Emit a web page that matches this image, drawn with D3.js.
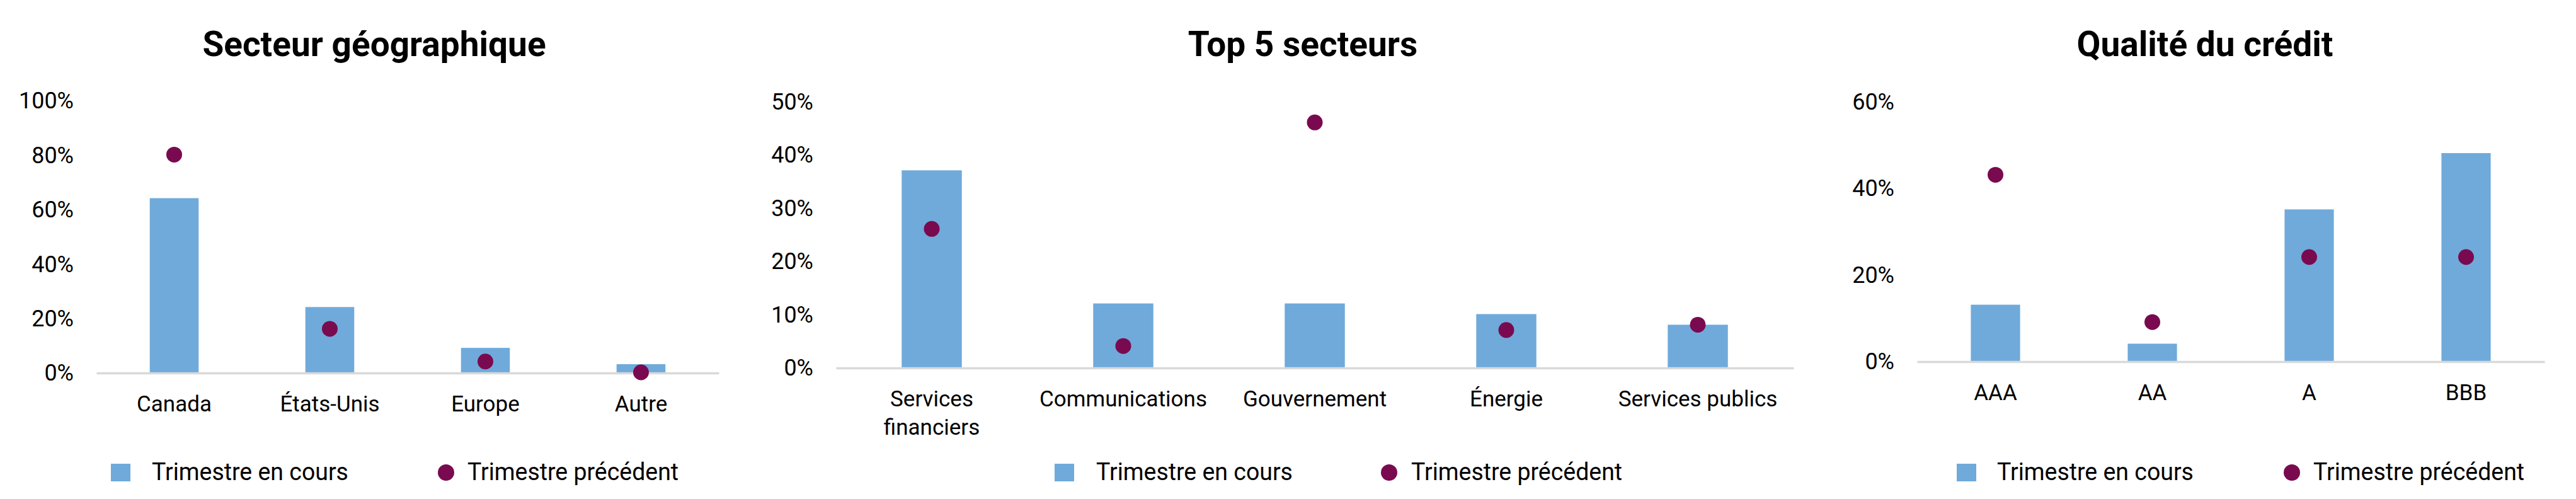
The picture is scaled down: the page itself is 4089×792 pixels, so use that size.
<!DOCTYPE html>
<html>
<head>
<meta charset="utf-8">
<script src="https://cdn.jsdelivr.net/npm/d3@7"></script>
<style>
  html, body { margin: 0; padding: 0; background: #ffffff; }
  svg { display: block; }
</style>
</head>
<body>
<svg id="chart" width="4089" height="792"></svg>
<script>
// ---------------- DATA ----------------
const legendLabels = ["Trimestre en cours", "Trimestre précédent"];

const geoTitle = "Secteur géographique";
const geoCategories = ["Canada", "États-Unis", "Europe", "Autre"];
const geoCurrent = [0.64, 0.24, 0.09, 0.03];
const geoPrevious = [0.80, 0.16, 0.04, 0.00];
const geoTicks = [0, 0.2, 0.4, 0.6, 0.8, 1.0];

const sectorTitle = "Top 5 secteurs";
const sectorCategories = ["Services financiers", "Communications", "Gouvernement", "Énergie", "Services publics"];
const sectorCurrent = [0.37, 0.12, 0.12, 0.10, 0.08];
const sectorPrevious = [0.26, 0.04, 0.46, 0.07, 0.08];
const sectorTicks = [0, 0.1, 0.2, 0.3, 0.4, 0.5];

const creditTitle = "Qualité du crédit";
const creditCategories = ["AAA", "AA", "A", "BBB"];
const creditCurrent = [0.13, 0.04, 0.35, 0.48];
const creditPrevious = [0.43, 0.09, 0.24, 0.24];
const creditTicks = [0, 0.2, 0.4, 0.6];

// ---------------- STYLE / LAYOUT ----------------
const FONT = "Roboto, 'Noto Sans', 'DejaVu Sans', sans-serif";
const BAR_COLOR = "#6FAADB";
const DOT_COLOR = "#7A0A4F";
const AXIS_COLOR = "#D9D9D9";
const TEXT_COLOR = "#000000";
const K_TEXT = 1.0;    // horizontal condensing for axis text
const K_LEGEND = 0.96; // horizontal condensing for legend text
const K_TITLE = 1.0;   // horizontal condensing for titles

const panels = [
  { title: geoTitle, cats: geoCategories, cur: geoCurrent, prev: geoPrevious, ticks: geoTicks,
    x0: 153, x1: 1141, yTop: 159, yBot: 591, titleX: 594,
    legend: { sq: 176, sqText: 241, dot: 708, dotText: 742 } },
  { title: sectorTitle, cats: sectorCategories, cur: sectorCurrent, prev: sectorPrevious, ticks: sectorTicks,
    x0: 1327, x1: 2847, yTop: 160.5, yBot: 583, titleX: 2068,
    legend: { sq: 1674, sqText: 1740, dot: 2205, dotText: 2240 } },
  { title: creditTitle, cats: creditCategories, cur: creditCurrent, prev: creditPrevious, ticks: creditTicks,
    x0: 3043, x1: 4039, yTop: 160.5, yBot: 573, titleX: 3500,
    legend: { sq: 3106, sqText: 3170, dot: 3638, dotText: 3672 } }
];

const svg = d3.select("#chart");
svg.append("rect").attr("width", 4089).attr("height", 792).attr("fill", "#fff");

function condense(sel, k) {
  if (k === 1) return;
  sel.each(function () {
    const w = this.getComputedTextLength();
    this.setAttribute("textLength", w * k);
    this.setAttribute("lengthAdjust", "spacingAndGlyphs");
  });
}

const pct = d3.format(".0%");

panels.forEach(p => {
  const g = svg.append("g");
  const y = d3.scaleLinear().domain([0, d3.max(p.ticks)]).range([p.yBot, p.yTop]);
  const x = d3.scaleBand().domain(p.cats).range([p.x0, p.x1]).paddingInner(0.686).paddingOuter(0.343);

  // title
  const t = g.append("text")
    .attr("x", p.titleX).attr("y", 89)
    .attr("text-anchor", "middle")
    .attr("font-family", FONT).attr("font-weight", 700).attr("font-size", 55)
    .attr("fill", TEXT_COLOR)
    .text(p.title);
  condense(t, K_TITLE);

  // y axis (labels only)
  const yAxis = g.append("g")
    .attr("transform", `translate(${p.x0},0)`)
    .call(d3.axisLeft(y).tickValues(p.ticks).tickFormat(pct).tickSize(0).tickPadding(36));
  yAxis.select(".domain").remove();
  yAxis.selectAll("text")
    .attr("font-family", FONT).attr("font-size", 36).attr("fill", TEXT_COLOR)
    .attr("dy", "0.36em");
  condense(yAxis.selectAll("text"), K_TEXT);

  // bars
  g.append("g").selectAll("rect")
    .data(p.cats.map((c, i) => ({ c, v: p.cur[i] })))
    .join("rect")
    .attr("x", d => x(d.c))
    .attr("width", x.bandwidth())
    .attr("y", d => y(d.v))
    .attr("height", d => y(0) - y(d.v))
    .attr("fill", BAR_COLOR);

  // x axis line + category labels
  const xAxis = g.append("g")
    .attr("transform", `translate(0,${p.yBot + 1})`)
    .call(d3.axisBottom(x).tickSize(0).tickSizeOuter(0).tickPadding(0));
  xAxis.select(".domain").attr("stroke", AXIS_COLOR).attr("stroke-width", 3.5);
  xAxis.selectAll(".tick text").remove();
  const maxW = x.step() * 0.95;
  xAxis.selectAll(".tick").each(function (d) {
    const tick = d3.select(this);
    const txt = tick.append("text")
      .attr("text-anchor", "middle")
      .attr("font-family", FONT).attr("font-size", 35).attr("fill", TEXT_COLOR)
      .attr("y", 61);
    const probe = txt.append("tspan").text(d);
    const tooWide = probe.node().getComputedTextLength() * K_TEXT > maxW;
    if (tooWide) {
      probe.remove();
      d.split(" ").forEach((w, i) => {
        txt.append("tspan").attr("x", 0).attr("dy", i === 0 ? 0 : 45).text(w);
      });
    }
    condense(txt.selectAll("tspan"), K_TEXT);
  });

  // dots
  g.append("g").selectAll("circle")
    .data(p.cats.map((c, i) => ({ c, v: p.prev[i] })))
    .join("circle")
    .attr("cx", d => x(d.c) + x.bandwidth() / 2)
    .attr("cy", d => y(d.v))
    .attr("r", 12.5)
    .attr("fill", DOT_COLOR);

  // legend
  const L = g.append("g");
  L.append("rect").attr("x", p.legend.sq).attr("y", 736).attr("width", 31).attr("height", 28).attr("fill", BAR_COLOR);
  const l1 = L.append("text").attr("x", p.legend.sqText).attr("y", 762)
    .attr("font-family", FONT).attr("font-size", 39).attr("fill", TEXT_COLOR).text(legendLabels[0]);
  L.append("circle").attr("cx", p.legend.dot).attr("cy", 750).attr("r", 13).attr("fill", DOT_COLOR);
  const l2 = L.append("text").attr("x", p.legend.dotText).attr("y", 762)
    .attr("font-family", FONT).attr("font-size", 39).attr("fill", TEXT_COLOR).text(legendLabels[1]);
  condense(l1, K_LEGEND);
  condense(l2, K_LEGEND);
});
</script>
</body>
</html>
